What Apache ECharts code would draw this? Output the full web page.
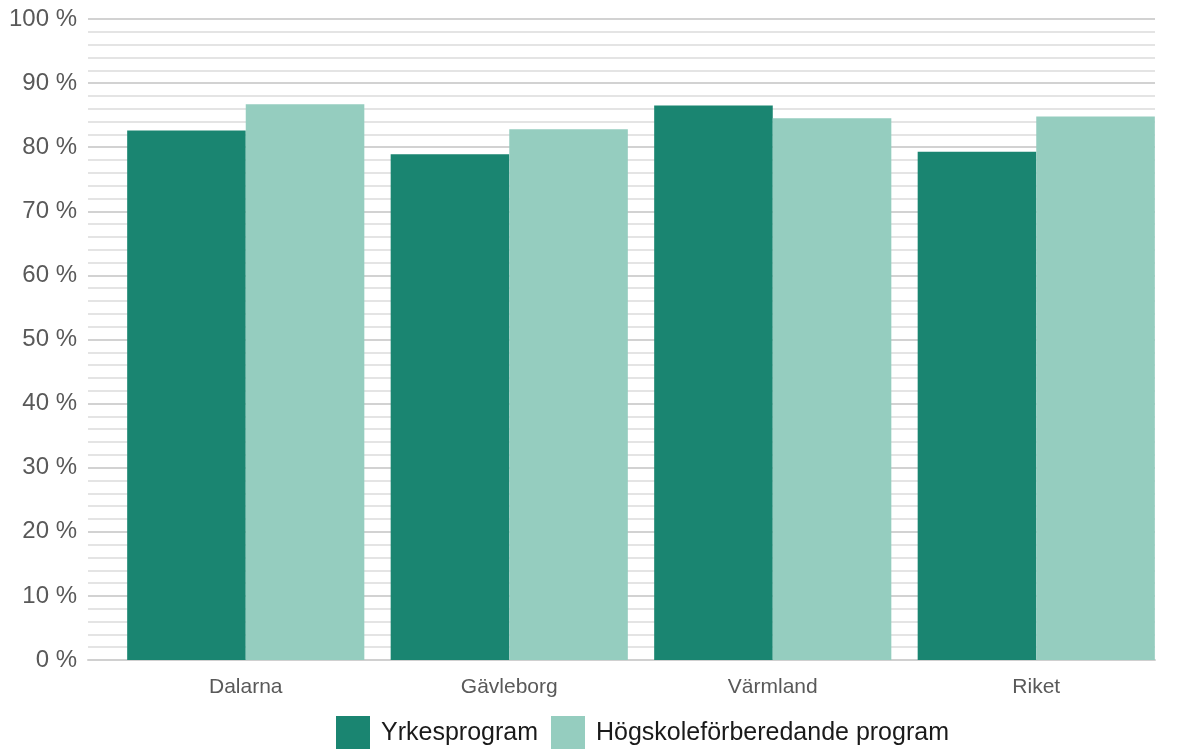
<!DOCTYPE html>
<html><head><meta charset="utf-8">
<script src="https://cdn.jsdelivr.net/npm/echarts@6/dist/echarts.min.js"></script>
<style>html,body{margin:0;padding:0;background:#fff}#c{width:1190px;height:749px}</style>
</head><body><div id="c"></div>
<script>
const categories = ['Dalarna', 'Gävleborg', 'Värmland', 'Riket'];
const yrkesprogram = [82.6, 78.9, 86.5, 79.3];
const hogskole = [86.7, 82.8, 84.5, 84.8];
const seriesNames = ['Yrkesprogram', 'Högskoleförberedande program'];

const chart = echarts.init(document.getElementById('c'));
chart.setOption({
  animation: false,
  grid: [
    {left: 88, right: 35, top: 19, bottom: 89},
    {left: 114, right: 22, top: 19, bottom: 89}
  ],
  legend: {
    top: 716, left: 336, padding: 0, itemWidth: 34, itemHeight: 34, itemGap: 13, icon: 'rect',
    textStyle: {fontFamily: 'Liberation Sans', fontSize: 25, color: '#1a1a1a', padding: [8, 0, 0, 6]},
    data: seriesNames
  },
  xAxis: [
    {gridIndex: 0, type: 'category', data: categories,
     axisLine: {lineStyle: {color: '#d0d0d0', width: 2}},
     axisTick: {show: false}, axisLabel: {show: false}},
    {gridIndex: 1, type: 'category', data: categories,
     axisLine: {show: false}, axisTick: {show: false},
     axisLabel: {fontFamily: 'Liberation Sans', fontSize: 21, color: '#595959', margin: 17}}
  ],
  yAxis: [
    {gridIndex: 0, type: 'value', min: 0, max: 100, interval: 10,
     axisLine: {show: false}, axisTick: {show: false},
     axisLabel: {fontFamily: 'Liberation Sans', fontSize: 24, color: '#595959', margin: 11,
       formatter: v => v + ' %'},
     splitLine: {lineStyle: {color: '#d2d2d2', width: 2}},
     minorTick: {show: false, splitNumber: 5},
     minorSplitLine: {show: true, lineStyle: {color: '#dcdcdc', width: 1.5}}},
    {gridIndex: 1, type: 'value', min: 0, max: 100, interval: 10, show: false,
     splitLine: {show: false}}
  ],
  series: [
    {name: seriesNames[0], type: 'bar', xAxisIndex: 1, yAxisIndex: 1, data: yrkesprogram,
     barGap: '0%', barCategoryGap: '10%', itemStyle: {color: '#1a8571'}},
    {name: seriesNames[1], type: 'bar', xAxisIndex: 1, yAxisIndex: 1, data: hogskole,
     barGap: '0%', barCategoryGap: '10%', itemStyle: {color: '#95cdbf'}}
  ]
});
</script></body></html>
